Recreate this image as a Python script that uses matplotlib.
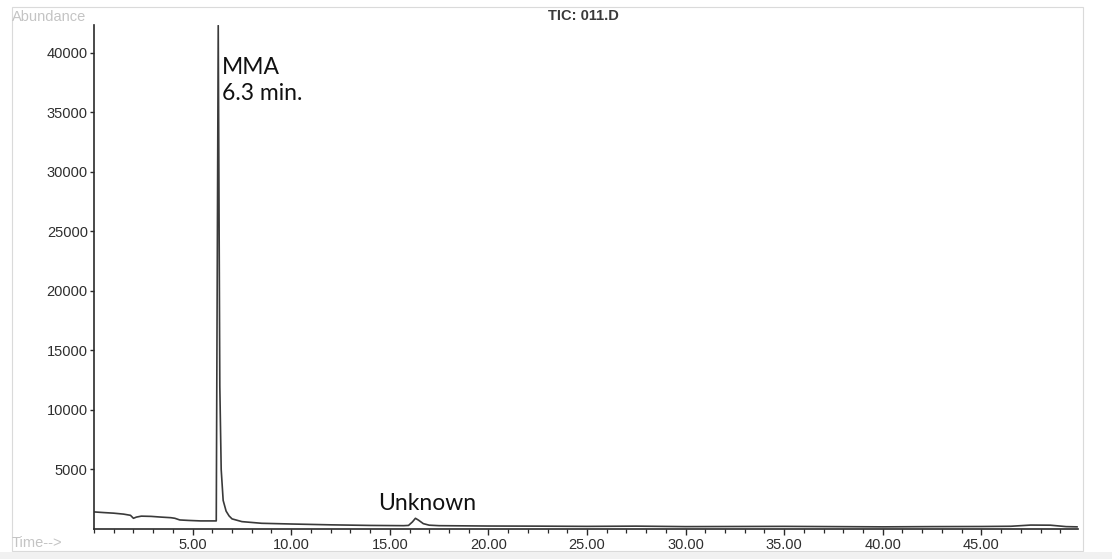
import matplotlib
matplotlib.use("Agg")
import matplotlib.pyplot as plt
from matplotlib.patches import Rectangle
from matplotlib.ticker import FixedLocator, MultipleLocator

# Total ion chromatogram, sample 011.D
title = "TIC: 011.D"
mma_rt = 6.3

time_min = [0.05, 0.5, 1.0, 1.5, 1.85, 2.0, 2.15, 2.4, 2.9, 3.4, 3.9, 4.1, 4.35,
            4.8, 5.4, 6.2, 6.3, 6.38, 6.45, 6.55, 6.7, 6.85, 7.0, 7.5, 8.5,
            10.0, 12.0, 14.0, 15.7, 15.95, 16.15, 16.3, 16.45, 16.7, 17.0, 17.5,
            20.0, 22.5, 25.0, 27.5, 30.0, 32.5, 35.0, 37.5, 40.0, 42.5, 45.0,
            46.5, 47.5, 48.5, 49.3, 49.85]
abundance = [1430, 1380, 1330, 1250, 1150, 900, 1000, 1080, 1060, 1000, 950, 900, 760,
             720, 680, 680, 42300, 12000, 5000, 2400, 1500, 1100, 850, 620, 480,
             420, 350, 300, 280, 300, 600, 900, 750, 450, 320, 280,
             250, 240, 220, 240, 200, 210, 220, 200, 180, 200, 210,
             230, 330, 320, 200, 180]

x_major = [5, 10, 15, 20, 25, 30, 35, 40, 45]
x_labels = ["5.00", "10.00", "15.00", "20.00", "25.00", "30.00", "35.00", "40.00", "45.00"]
y_major = [5000, 10000, 15000, 20000, 25000, 30000, 35000, 40000]
y_labels = ["5000", "10000", "15000", "20000", "25000", "30000", "35000", "40000"]

W, H = 1112, 559
fig = plt.figure(figsize=(W / 100, H / 100), dpi=100)
fig.patch.set_facecolor("white")

ax = fig.add_axes([94 / W, 1 - 529 / H, (1078 - 94) / W, (529 - 25) / H])
ax.plot(time_min, abundance, color="#3a3a3a", lw=1.2)

ax.set_xlim(0, 49.9)
ax.set_ylim(0, 42350)

for s in ("top", "right"):
    ax.spines[s].set_visible(False)
for s in ("left", "bottom"):
    ax.spines[s].set_color("#2a2a2a")
    ax.spines[s].set_linewidth(1.2)

tick_font = dict(family="Liberation Sans", size=10.5, color="#2e2e2e")
ax.xaxis.set_major_locator(FixedLocator(x_major))
ax.set_xticklabels(x_labels, **tick_font)
ax.xaxis.set_minor_locator(MultipleLocator(1))
ax.yaxis.set_major_locator(FixedLocator(y_major))
ax.set_yticklabels(y_labels, **tick_font)

ax.tick_params(axis="x", which="major", direction="out", length=4.5, width=1.0,
               color="#2a2a2a", pad=2)
ax.tick_params(axis="x", which="minor", direction="out", length=3, width=0.9,
               color="#2a2a2a")
ax.tick_params(axis="y", which="major", direction="out", length=3, width=1.0,
               color="#2a2a2a", pad=1.5)

# Peak annotations
note_font = dict(family="Lato", size=16.5, color="#111111")
ax.text(6.49, 38235, "MMA", ha="left", va="baseline", **note_font)
ax.text(6.49, 36050, f"{mma_rt} min.", ha="left", va="baseline", **note_font)
ax.text(14.4, 1600, "Unknown", ha="left", va="baseline", **note_font)

# Report frame and header texts
fig.add_artist(Rectangle((12 / W, 1 - 551 / H), (1083 - 12) / W, (551 - 7) / H,
                         transform=fig.transFigure, fill=False,
                         edgecolor="#dadada", lw=0.8))
fig.add_artist(Rectangle((0, 0), 1, 1 - 552 / H, transform=fig.transFigure,
                         facecolor="#f1f1f1", edgecolor="none"))
fig.text(583 / W, 1 - 15.5 / H, title, ha="center", va="center",
         family="Liberation Sans", size=10.5, weight="bold", color="#3a3a3a")
fig.text(12 / W, 1 - 17 / H, "Abundance", ha="left", va="center",
         family="Liberation Sans", size=10.5, color="#c4c4c4")
fig.text(12 / W, 1 - 543 / H, "Time-->", ha="left", va="center",
         family="Liberation Sans", size=10.5, color="#c4c4c4")

fig.savefig("out.png", dpi=100)
